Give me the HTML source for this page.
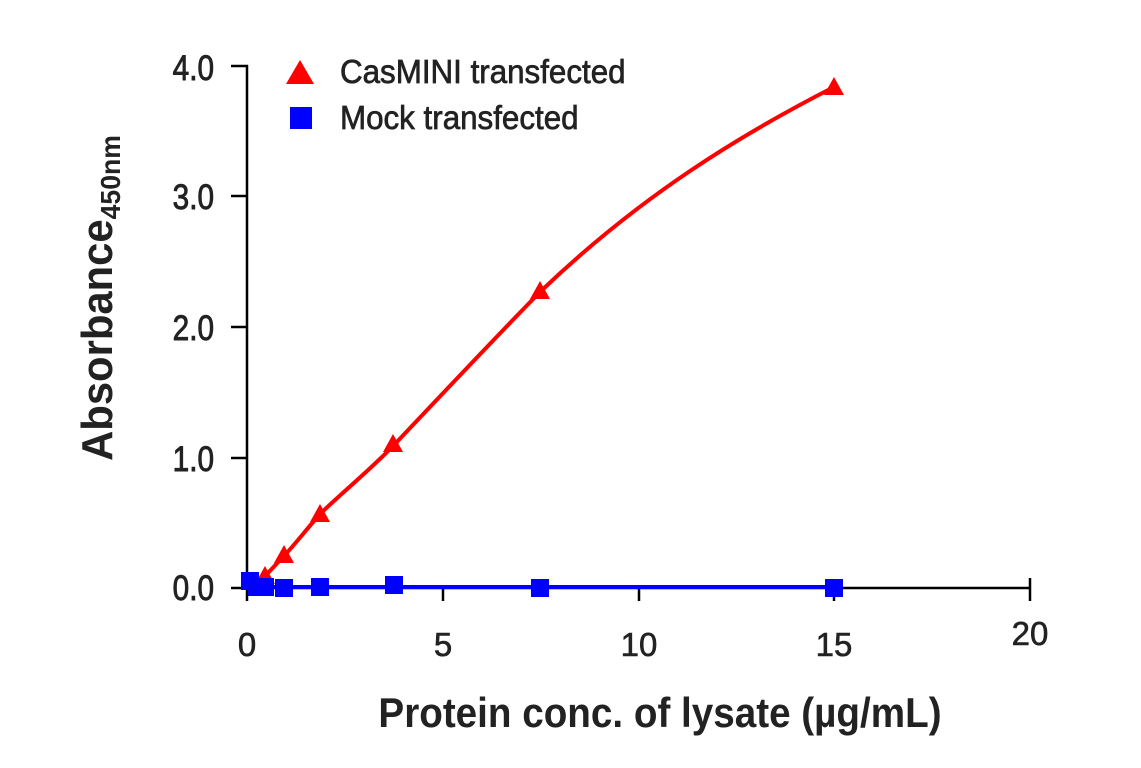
<!DOCTYPE html>
<html><head><style>body{margin:0;background:#fff}svg{display:block}text{font-family:"Liberation Sans",sans-serif}</style></head>
<body>
<svg width="1141" height="768" viewBox="0 0 1141 768">
<g stroke="#000" stroke-width="2.5" fill="none">
<line x1="247" y1="65" x2="247" y2="601"/>
<line x1="231" y1="588" x2="1030" y2="588"/>
<line x1="231" y1="66" x2="248" y2="66"/>
<line x1="231" y1="196" x2="247" y2="196"/>
<line x1="231" y1="327" x2="247" y2="327"/>
<line x1="231" y1="458" x2="247" y2="458"/>
<line x1="443" y1="588" x2="443" y2="601"/>
<line x1="639" y1="588" x2="639" y2="601"/>
<line x1="834" y1="588" x2="834" y2="601"/>
<line x1="1030" y1="578" x2="1030" y2="601"/>
</g>
<g font-size="35" fill="#222" stroke="#222" stroke-width="0.9" text-anchor="end">
<text x="214" y="80" transform="scale(0.85,1)" style="transform-origin:214px 0">4.0</text>
<text x="214" y="209" transform="scale(0.85,1)" style="transform-origin:214px 0">3.0</text>
<text x="214" y="340" transform="scale(0.85,1)" style="transform-origin:214px 0">2.0</text>
<text x="214" y="471" transform="scale(0.85,1)" style="transform-origin:214px 0">1.0</text>
<text x="214" y="600" transform="scale(0.85,1)" style="transform-origin:214px 0">0.0</text>
</g>
<g font-size="33" fill="#222" stroke="#222" stroke-width="0.6" text-anchor="middle">
<text x="247" y="656">0</text>
<text x="443" y="656">5</text>
<text x="639" y="656">10</text>
<text x="834" y="656">15</text>
<text x="1030" y="645">20</text>
</g>
<text x="660" y="727" font-size="42" font-weight="bold" text-anchor="middle" fill="#222" transform="scale(0.92,1)" style="transform-origin:660px 0">Protein conc. of lysate (µg/mL)</text>
<g transform="translate(112,298) rotate(-90) scale(0.95,1)">
<text x="0" y="0" font-size="44" font-weight="bold" text-anchor="middle" fill="#222">Absorbance<tspan font-size="28" dy="8">450nm</tspan></text>
</g>
<path fill="none" stroke="#f00" stroke-width="4" d="M249,589 C256,583 260,580 265,576 C272,569 278,562 284,556 C296,543 306,530 320,514 C345,490 370,470 394,445 C445,391 495,338 540,292 C640,196 740,135 834,87"/>
<g fill="#f00">
<polygon points="284,545 294,563 274,563"/>
<polygon points="320,504 330,522 310,522"/>
<polygon points="393,434 403,452 383,452"/>
<polygon points="540,281 550,299 530,299"/>
<polygon points="834,77 844,95 824,95"/>
<polygon points="265,566 275,584 255,584"/>
<polygon points="300,60 314,84 286,84"/>
</g>
<line x1="247" y1="587" x2="834" y2="587" stroke="#00f" stroke-width="4"/>
<g fill="#00f">
<rect x="241" y="572" width="18" height="18"/>
<rect x="248" y="578" width="18" height="18"/>
<rect x="256" y="578" width="18" height="18"/>
<rect x="275" y="579" width="18" height="18"/>
<rect x="311" y="578" width="18" height="18"/>
<rect x="385" y="576" width="18" height="18"/>
<rect x="531" y="579" width="18" height="18"/>
<rect x="825" y="579" width="18" height="18"/>
<rect x="290" y="107" width="22" height="22"/>
</g>
<g font-size="33" fill="#222" stroke="#222" stroke-width="0.7">
<text x="340" y="83" transform="scale(0.95,1)" style="transform-origin:340px 0">CasMINI transfected</text>
<text x="340" y="129" transform="scale(0.95,1)" style="transform-origin:340px 0">Mock transfected</text>
</g>
</svg>
</body></html>
